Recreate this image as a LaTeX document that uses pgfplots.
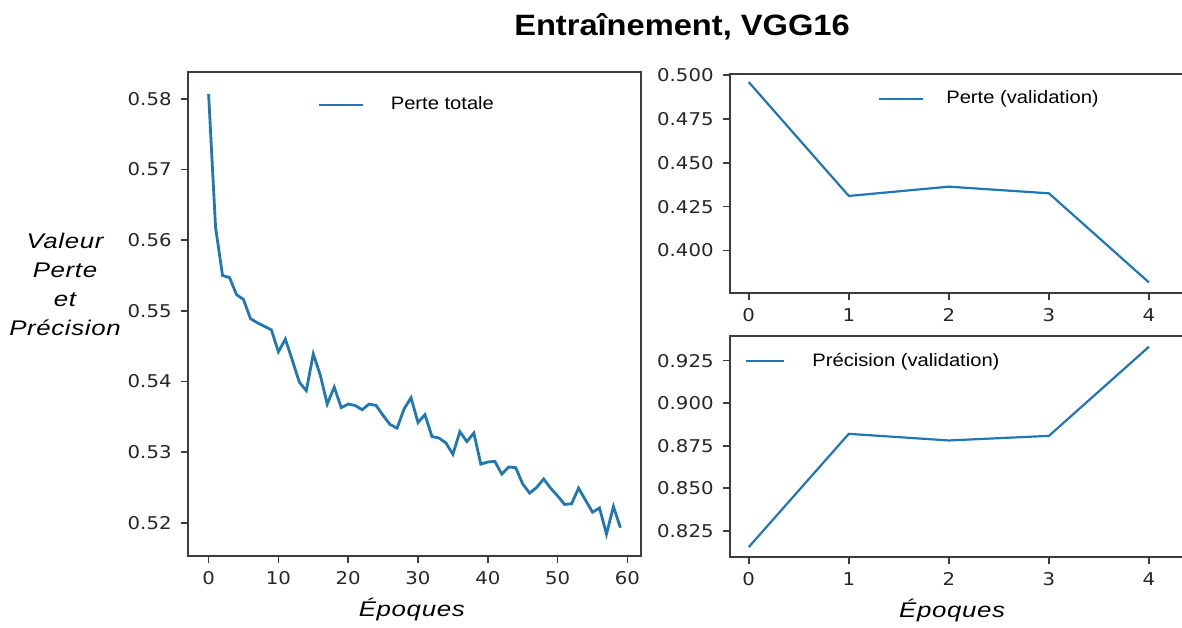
\documentclass[border=0pt]{standalone}
\usepackage{pgfplots}
\pgfplotsset{compat=1.18}
\usepackage{fontspec}
\setmainfont{Liberation Sans}[FakeStretch=1.12]
\newfontfamily\tickfont{DejaVu Sans}[FakeStretch=1.12]
\newfontfamily\titlefont{Liberation Sans}[FakeStretch=1.11]
\newfontfamily\labelfont{Liberation Sans Italic}[FakeStretch=1.22, LetterSpace=3]
\definecolor{mplblue}{RGB}{31,119,180}
\definecolor{axgray}{RGB}{60,60,60}

\pgfplotstableread{
x y
0 0.5807
1 0.5618
2 0.5550
3 0.5547
4 0.5523
5 0.5516
6 0.5489
7 0.5483
8 0.5478
9 0.5473
10 0.5442
11 0.5460
12 0.5430
13 0.5399
14 0.5387
15 0.5439
16 0.5409
17 0.5368
18 0.5392
19 0.5363
20 0.5368
21 0.5366
22 0.5360
23 0.5368
24 0.5366
25 0.5352
26 0.5339
27 0.5334
28 0.5361
29 0.5377
30 0.5342
31 0.5353
32 0.5322
33 0.5320
34 0.5313
35 0.5297
36 0.5329
37 0.5315
38 0.5327
39 0.5283
40 0.5286
41 0.5287
42 0.5269
43 0.5279
44 0.5278
45 0.5255
46 0.5242
47 0.5250
48 0.5262
49 0.5249
50 0.5238
51 0.5226
52 0.5227
53 0.5249
54 0.5232
55 0.5215
56 0.5221
57 0.5184
58 0.5223
59 0.5193
}\trainloss

\pgfplotstableread{
x y
0 0.4960
1 0.4311
2 0.4364
3 0.4326
4 0.3818
}\valloss

\pgfplotstableread{
x y
0 0.8154
1 0.8820
2 0.8781
3 0.8808
4 0.9332
}\valacc

\pgfplotsset{
  myax/.style={
    scale only axis,
    anchor=south west,
    axis line style={axgray, line width=0.9pt},
    major tick style={axgray, line width=0.8pt},
    major tick length=3.5pt,
    tick align=outside,
    xtick pos=bottom,
    ytick pos=left,
    scaled ticks=false,
    /pgf/number format/assume math mode=true,
    tick label style={font=\tickfont\fontsize{8.8}{10}\selectfont, text=black!85},
    yticklabel style={inner sep=0pt, xshift=-4.5pt},
    xticklabel style={inner sep=0pt, yshift=-4pt},
    legend style={draw=none, fill=none, anchor=west, inner sep=0pt, outer sep=0pt,
      nodes={inner sep=0pt}, font=\fontsize{9}{10}\selectfont,
      /tikz/every odd column/.append style={column sep=13pt}},
    legend image code/.code={\draw[##1] (0pt,0pt) -- (22pt,0pt);},
  }
}

\begin{document}
\begin{tikzpicture}
\path[use as bounding box] (0,0) rectangle (591pt,313.5pt);

\node[font=\titlefont\bfseries\fontsize{14.7}{17}\selectfont] at (341pt,300pt) {Entraînement, VGG16};

\begin{axis}[myax,
  at={(94pt,35.5pt)}, width=226.5pt, height=242pt,
  xmin=-2.95, xmax=61.95, ymin=0.5153, ymax=0.5838,
  xtick={0,10,20,30,40,50,60},
  ytick={0.52,0.53,0.54,0.55,0.56,0.57,0.58},
  yticklabel style={/pgf/number format/.cd, fixed, fixed zerofill, precision=2},
  xlabel={Époques},
  every axis x label/.style={at={(0.494,0)}, anchor=center, yshift=-27pt,
    font=\labelfont\fontsize{10.6}{14.5}\selectfont},
  ylabel={Valeur\\Perte\\et\\Précision},
  every axis y label/.style={at={(-0.2715,0.562)}, anchor=center, align=center,
    font=\labelfont\fontsize{10.6}{14.5}\selectfont},
  legend style={at={(0.287,0.932)}},
]
\addplot[mplblue, line width=1.4pt] table[x=x,y=y] {\trainloss};
\addlegendentry{Perte totale}
\end{axis}

\begin{axis}[myax,
  at={(365pt,167pt)}, width=230pt, height=109.5pt,
  xmin=-0.187, xmax=4.41, ymin=0.3758, ymax=0.5006,
  xtick={0,1,2,3,4},
  ytick={0.400,0.425,0.450,0.475,0.500},
  yticklabel style={/pgf/number format/.cd, fixed, fixed zerofill, precision=3},
  legend style={at={(0.322,0.886)}, /tikz/every odd column/.append style={column sep=11pt}},
]
\addplot[mplblue, line width=1.1pt] table[x=x,y=y] {\valloss};
\addlegendentry{Perte (validation)}
\end{axis}

\begin{axis}[myax,
  at={(365pt,35pt)}, width=230pt, height=110.5pt,
  xmin=-0.187, xmax=4.41, ymin=0.8096, ymax=0.9395,
  xtick={0,1,2,3,4},
  ytick={0.825,0.850,0.875,0.900,0.925},
  yticklabel style={/pgf/number format/.cd, fixed, fixed zerofill, precision=3},
  xlabel={Époques},
  every axis x label/.style={at={(0.483,0)}, anchor=center, yshift=-27pt,
    font=\labelfont\fontsize{10.6}{14.5}\selectfont},
  legend style={at={(0.033,0.887)}, /tikz/every odd column/.append style={column sep=13.5pt}},
  legend image code/.code={\draw[#1] (0pt,0pt) -- (19pt,0pt);},
]
\addplot[mplblue, line width=1.1pt] table[x=x,y=y] {\valacc};
\addlegendentry{Précision (validation)}
\end{axis}
\end{tikzpicture}
\end{document}
